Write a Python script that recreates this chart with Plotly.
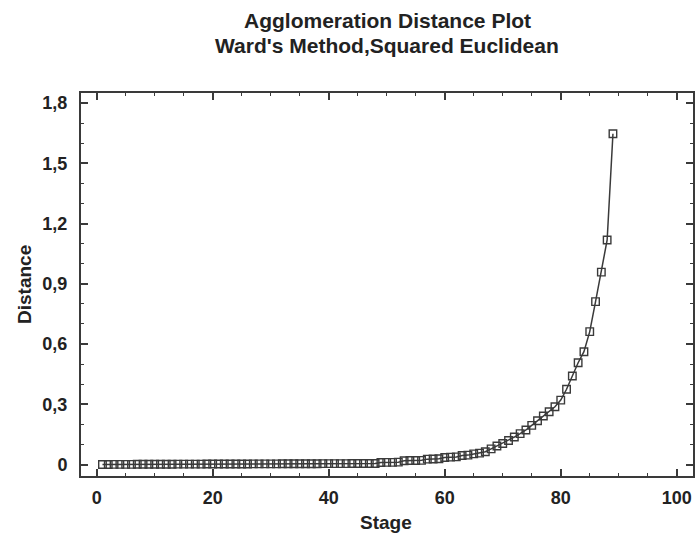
import plotly.graph_objects as go

stages = list(range(1, 90))
distance = [
    0.0005, 0.0006, 0.0008, 0.0009, 0.0010, 0.0011, 0.0012, 0.0013, 0.0014, 0.0015,
    0.0016, 0.0017, 0.0018, 0.0019, 0.0020, 0.0021, 0.0022, 0.0023, 0.0024, 0.0025,
    0.0026, 0.0027, 0.0028, 0.0029, 0.0030, 0.0031, 0.0032, 0.0033, 0.0034, 0.0035,
    0.0036, 0.0037, 0.0038, 0.0039, 0.0040, 0.0041, 0.0042, 0.0043, 0.0044, 0.0045,
    0.0046, 0.0047, 0.0048, 0.0049, 0.0050, 0.0051, 0.0052, 0.0053,
    0.010, 0.011, 0.011, 0.012,
    0.019, 0.020, 0.020, 0.021,
    0.027, 0.028, 0.029,
    0.035, 0.037, 0.038,
    0.045, 0.047,
    0.053, 0.057,
    0.064, 0.078, 0.092, 0.105, 0.120, 0.137, 0.154, 0.172, 0.195, 0.218,
    0.242, 0.263, 0.288, 0.321, 0.375, 0.441, 0.507, 0.562, 0.662, 0.811,
    0.958, 1.118, 1.647,
]

x_tickvals = [0, 20, 40, 60, 80, 100]
x_ticktext = ["0", "20", "40", "60", "80", "100"]
y_tickvals = [0, 0.3, 0.6, 0.9, 1.2, 1.5, 1.8]
y_ticktext = ["0", "0,3", "0,6", "0,9", "1,2", "1,5", "1,8"]
title_lines = ["Agglomeration Distance Plot", "Ward's Method,Squared Euclidean"]
x_title = "Stage"
y_title = "Distance"

FONT = "Liberation Sans, Arial, sans-serif"
INK = "#3a3a3a"
TXT = "#222222"

L, R, T, B = 81, 4, 93, 62
W, H = 697, 538
PH = H - T - B


def py(p):
    # pixel row -> paper y
    return (H - B - p) / PH


def px(p):
    return (p - L) / (W - L - R)


fig = go.Figure()
fig.add_trace(go.Scatter(
    x=stages, y=distance, mode="lines+markers",
    line=dict(color=INK, width=1.5),
    marker=dict(symbol="square-open", size=7.5, color=INK, line=dict(width=1.4, color=INK)),
    showlegend=False,
))

axis_common = dict(
    showline=True, mirror="ticks", linecolor=INK, linewidth=2,
    ticks="inside", tickcolor=INK, ticklen=7, tickwidth=1.5,
    showgrid=False, zeroline=False, automargin=False,
    tickfont=dict(family=FONT, size=18, color=TXT, weight="bold"),
)

annotations = [
    dict(text=title_lines[0], x=0.5, y=py(20), xref="paper", yref="paper",
         xanchor="center", yanchor="middle", showarrow=False,
         font=dict(family=FONT, size=21, color=TXT, weight="bold")),
    dict(text=title_lines[1], x=0.5, y=py(46), xref="paper", yref="paper",
         xanchor="center", yanchor="middle", showarrow=False,
         font=dict(family=FONT, size=21, color=TXT, weight="bold")),
    dict(text=x_title, x=px(386), y=py(522), xref="paper", yref="paper",
         xanchor="center", yanchor="middle", showarrow=False,
         font=dict(family=FONT, size=19, color=TXT, weight="bold")),
    dict(text=y_title, x=px(24), y=py(285), xref="paper", yref="paper",
         xanchor="center", yanchor="middle", showarrow=False, textangle=-90,
         font=dict(family=FONT, size=19, color=TXT, weight="bold")),
]

fig.update_layout(
    width=W, height=H,
    margin=dict(l=L, r=R, t=T, b=B),
    paper_bgcolor="white", plot_bgcolor="white",
    annotations=annotations,
    xaxis=dict(
        range=[-2.7, 102.8], tickvals=x_tickvals, ticktext=x_ticktext,
        minor=dict(dtick=5, tick0=0, ticks="inside", ticklen=3, tickcolor=INK, tickwidth=1.2),
        ticklabelstandoff=4,
        **axis_common,
    ),
    yaxis=dict(
        range=[-0.057, 1.85], tickvals=y_tickvals, ticktext=y_ticktext,
        minor=dict(dtick=0.1, tick0=0, ticks="inside", ticklen=3, tickcolor=INK, tickwidth=1.2),
        ticklabelstandoff=8,
        **axis_common,
    ),
)

fig.write_html(
    "out.html",
    config={"displayModeBar": False},
    post_script="document.body.style.margin='0';document.body.style.overflow='hidden';",
)
